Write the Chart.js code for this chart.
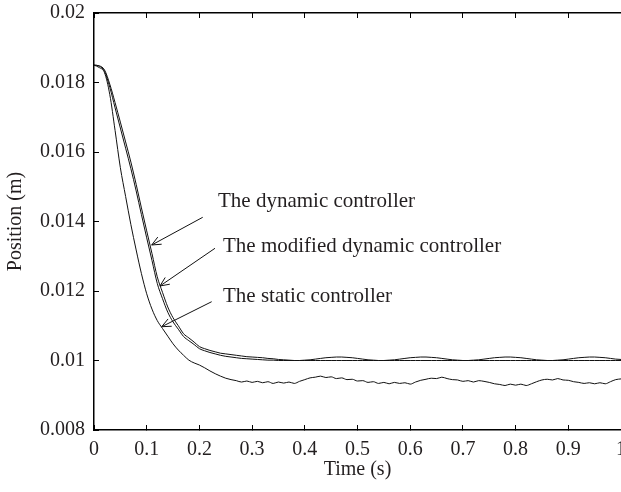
<!DOCTYPE html>
<html><head><meta charset="utf-8">
<script src="https://cdn.jsdelivr.net/npm/chart.js@4.4.0/dist/chart.umd.min.js"></script>
<style>
html,body{margin:0;padding:0;overflow:hidden;background:#fff;width:621px;height:492px}
#wrap{width:680px;height:492px;position:relative}
</style></head>
<body><div id="wrap"><canvas id="c"></canvas></div>
<script>
const timeS = [0,0.01,0.02,0.03,0.04,0.05,0.06,0.07,0.08,0.09,
0.10,0.11,0.12,0.13,0.14,0.15,0.16,0.17,0.18,0.19,
0.20,0.21,0.22,0.23,0.24,0.25,0.26,0.27,0.28,0.29,
0.30,0.31,0.32,0.33,0.34,0.35,0.36,0.37,0.38,0.39,
0.40,0.41,0.42,0.43,0.44,0.45,0.46,0.47,0.48,0.49,
0.50,0.51,0.52,0.53,0.54,0.55,0.56,0.57,0.58,0.59,
0.60,0.61,0.62,0.63,0.64,0.65,0.66,0.67,0.68,0.69,
0.70,0.71,0.72,0.73,0.74,0.75,0.76,0.77,0.78,0.79,
0.80,0.81,0.82,0.83,0.84,0.85,0.86,0.87,0.88,0.89,
0.90,0.91,0.92,0.93,0.94,0.95,0.96,0.97,0.98,0.99,1.00];

const dynamicCtrl = [.01850,.01848,.01836,.01795,.01742,.01686,.01629,.01571,.01507,.01439,
.01373,.01308,.01241,.01196,.01154,.01123,.01100,.01077,.01065,.01053,
.01040,.01034,.01029,.01025,.01021,.01019,.01017,.01015,.01013,.01011,
.01010,.01009,.01008,.01006,.01005,.01003,.01002,.01001,.01000,.01000,
.01001,.01002,.01004,.01006,.01008,.01009,.01010,.01010,.01009,.01008,
.01006,.01004,.01002,.01001,.01000,.01000,.01001,.01002,.01004,.01006,
.01008,.01009,.01010,.01010,.01009,.01008,.01006,.01004,.01002,.01001,
.01000,.01000,.01001,.01002,.01004,.01006,.01008,.01009,.01010,.01010,
.01009,.01008,.01006,.01004,.01002,.01001,.01000,.01000,.01001,.01002,
.01004,.01006,.01008,.01009,.01010,.01010,.01009,.01008,.01006,.01004,
.01003];

const modifiedCtrl = [.01850,.01847,.01832,.01786,.01727,.01669,.01611,.01552,.01488,.01420,
.01353,.01288,.01222,.01178,.01139,.01111,.01090,.01069,.01057,.01046,
.01034,.01028,.01023,.01019,.01015,.01012,.01010,.01008,.01006,.01005,
.01004,.01003,.01002,.01001,.01001,.01000,.01000,.01000,.01000,.01000,
.01000,.01000,.01000,.01000,.01000,.01000,.01000,.01000,.01000,.01000,
.01000,.01000,.01000,.01000,.01000,.01000,.01000,.01000,.01000,.01000,
.01000,.01000,.01000,.01000,.01000,.01000,.01000,.01000,.01000,.01000,
.01000,.01000,.01000,.01000,.01000,.01000,.01000,.01000,.01000,.01000,
.01000,.01000,.01000,.01000,.01000,.01000,.01000,.01000,.01000,.01000,
.01000,.01000,.01000,.01000,.01000,.01000,.01000,.01000,.01000,.01000,
.01000];

const staticCtrl = [.01850,.01843,.01828,.01765,.01662,.01555,.01472,.01391,.01318,.01250,
.01192,.01148,.01115,.01092,.01070,.01048,.01030,.01015,.01001,.00993,
.00987,.00979,.00970,.00962,.00955,.00949,.00945,.00942,.00938,.00941,
.00937,.00940,.00936,.00939,.00934,.00938,.00935,.00938,.00934,.00940,
.00945,.00950,.00952,.00955,.00951,.00953,.00948,.00950,.00945,.00946,
.00941,.00942,.00937,.00939,.00934,.00937,.00933,.00937,.00934,.00936,
.00932,.00938,.00943,.00946,.00949,.00948,.00952,.00948,.00945,.00944,
.00940,.00942,.00938,.00942,.00940,.00937,.00933,.00931,.00928,.00932,
.00929,.00932,.00928,.00933,.00939,.00944,.00946,.00944,.00948,.00944,
.00943,.00939,.00937,.00934,.00936,.00933,.00936,.00933,.00939,.00945,
.00947];

const xTickValues = [0,0.1,0.2,0.3,0.4,0.5,0.6,0.7,0.8,0.9,1];
const xTickLabels = ['0','0.1','0.2','0.3','0.4','0.5','0.6','0.7','0.8','0.9','1'];
const yTickValues = [0.008,0.010,0.012,0.014,0.016,0.018,0.020];
const yTickLabels = ['0.008','0.01','0.012','0.014','0.016','0.018','0.02'];

const annoTexts = ['The dynamic controller','The modified dynamic controller','The static controller'];
const annoTextX = [0.2353, 0.2448, 0.2448];
const annoTextY = [0.014426, 0.013131, 0.011692];
const arrowFromX = [0.2063, 0.2296, 0.2233];
const arrowFromY = [0.014121, 0.013229, 0.011692];
const arrowToX = [0.1095, 0.1252, 0.1285];
const arrowToY = [0.013324, 0.012144, 0.010973];

const FONT = "'Liberation Serif', 'DejaVu Serif', serif";
const INK = '#231f20';

const annoPlugin = {
  id: 'anno',
  afterDatasetsDraw(chart) {
    const {ctx, scales: {x, y}} = chart;
    ctx.save();
    ctx.strokeStyle = '#111';
    ctx.lineWidth = 1;
    for (let i = 0; i < annoTexts.length; i++) {
      const x0 = x.getPixelForValue(arrowFromX[i]), y0 = y.getPixelForValue(arrowFromY[i]);
      const x1 = x.getPixelForValue(arrowToX[i]), y1 = y.getPixelForValue(arrowToY[i]);
      const ang = Math.atan2(y0 - y1, x0 - x1);
      const L = 10, a = 0.42;
      ctx.beginPath();
      ctx.moveTo(x0, y0); ctx.lineTo(x1, y1);
      ctx.moveTo(x1 + L * Math.cos(ang + a), y1 + L * Math.sin(ang + a));
      ctx.lineTo(x1, y1);
      ctx.lineTo(x1 + L * Math.cos(ang - a), y1 + L * Math.sin(ang - a));
      ctx.stroke();
      ctx.font = '21px ' + FONT;
      ctx.fillStyle = INK;
      ctx.textBaseline = 'alphabetic';
      ctx.textAlign = 'left';
      ctx.fillText(annoTexts[i], x.getPixelForValue(annoTextX[i]), y.getPixelForValue(annoTextY[i]));
    }
    ctx.restore();
  }
};

const mk = (arr) => timeS.map((t, i) => ({x: t, y: arr[i]}));
const lineDs = (label, arr) => ({
  label, data: mk(arr), borderColor: '#111', borderWidth: 1, pointRadius: 0,
  cubicInterpolationMode: 'monotone', fill: false
});

new Chart(document.getElementById('c'), {
  type: 'line',
  data: {datasets: [
    lineDs('The dynamic controller', dynamicCtrl),
    lineDs('The modified dynamic controller', modifiedCtrl),
    lineDs('The static controller', staticCtrl)
  ]},
  options: {
    responsive: true, maintainAspectRatio: false, animation: false, devicePixelRatio: 1,
    layout: {padding: {left: 0, top: 13, right: 59, bottom: 0}},
    plugins: {legend: {display: false}, tooltip: {enabled: false}},
    scales: {
      x: {
        type: 'linear', position: 'bottom', min: 0, max: 1,
        afterBuildTicks: s => { s.ticks = xTickValues.map(v => ({value: v})); },
        ticks: {callback: (v, i) => xTickLabels[i], font: {family: FONT, size: 20}, color: INK, padding: 13, maxRotation: 0, autoSkip: false},
        grid: {drawOnChartArea: false, tickLength: -5, color: '#000', lineWidth: 1},
        border: {color: '#000', width: 1.5},
        title: {display: true, text: 'Time (s)', font: {family: FONT, size: 20}, color: INK, padding: {top: 0, bottom: 10}},
        afterFit: s => { s.height = 62; s.paddingLeft = 0; s.paddingRight = 0; }
      },
      x2: {
        type: 'linear', position: 'top', min: 0, max: 1,
        afterBuildTicks: s => { s.ticks = xTickValues.map(v => ({value: v})); },
        ticks: {display: false},
        grid: {drawOnChartArea: false, tickLength: -5, color: '#000', lineWidth: 1},
        border: {color: '#000', width: 1.5},
        afterFit: s => { s.height = 0; s.paddingLeft = 0; s.paddingRight = 0; }
      },
      y: {
        type: 'linear', position: 'left', min: 0.008, max: 0.02,
        afterBuildTicks: s => { s.ticks = yTickValues.map(v => ({value: v})); },
        ticks: {callback: (v, i) => yTickLabels[i], font: {family: FONT, size: 20}, color: INK, padding: 14, autoSkip: false},
        grid: {drawOnChartArea: false, tickLength: -5, color: '#000', lineWidth: 1},
        border: {color: '#000', width: 1.5},
        title: {display: true, text: 'Position (m)', font: {family: FONT, size: 20}, color: INK, padding: {top: 4, bottom: 0}},
        afterFit: s => { s.width = 94; s.paddingTop = 0; s.paddingBottom = 0; }
      }
    }
  },
  plugins: [annoPlugin]
});
</script></body></html>
